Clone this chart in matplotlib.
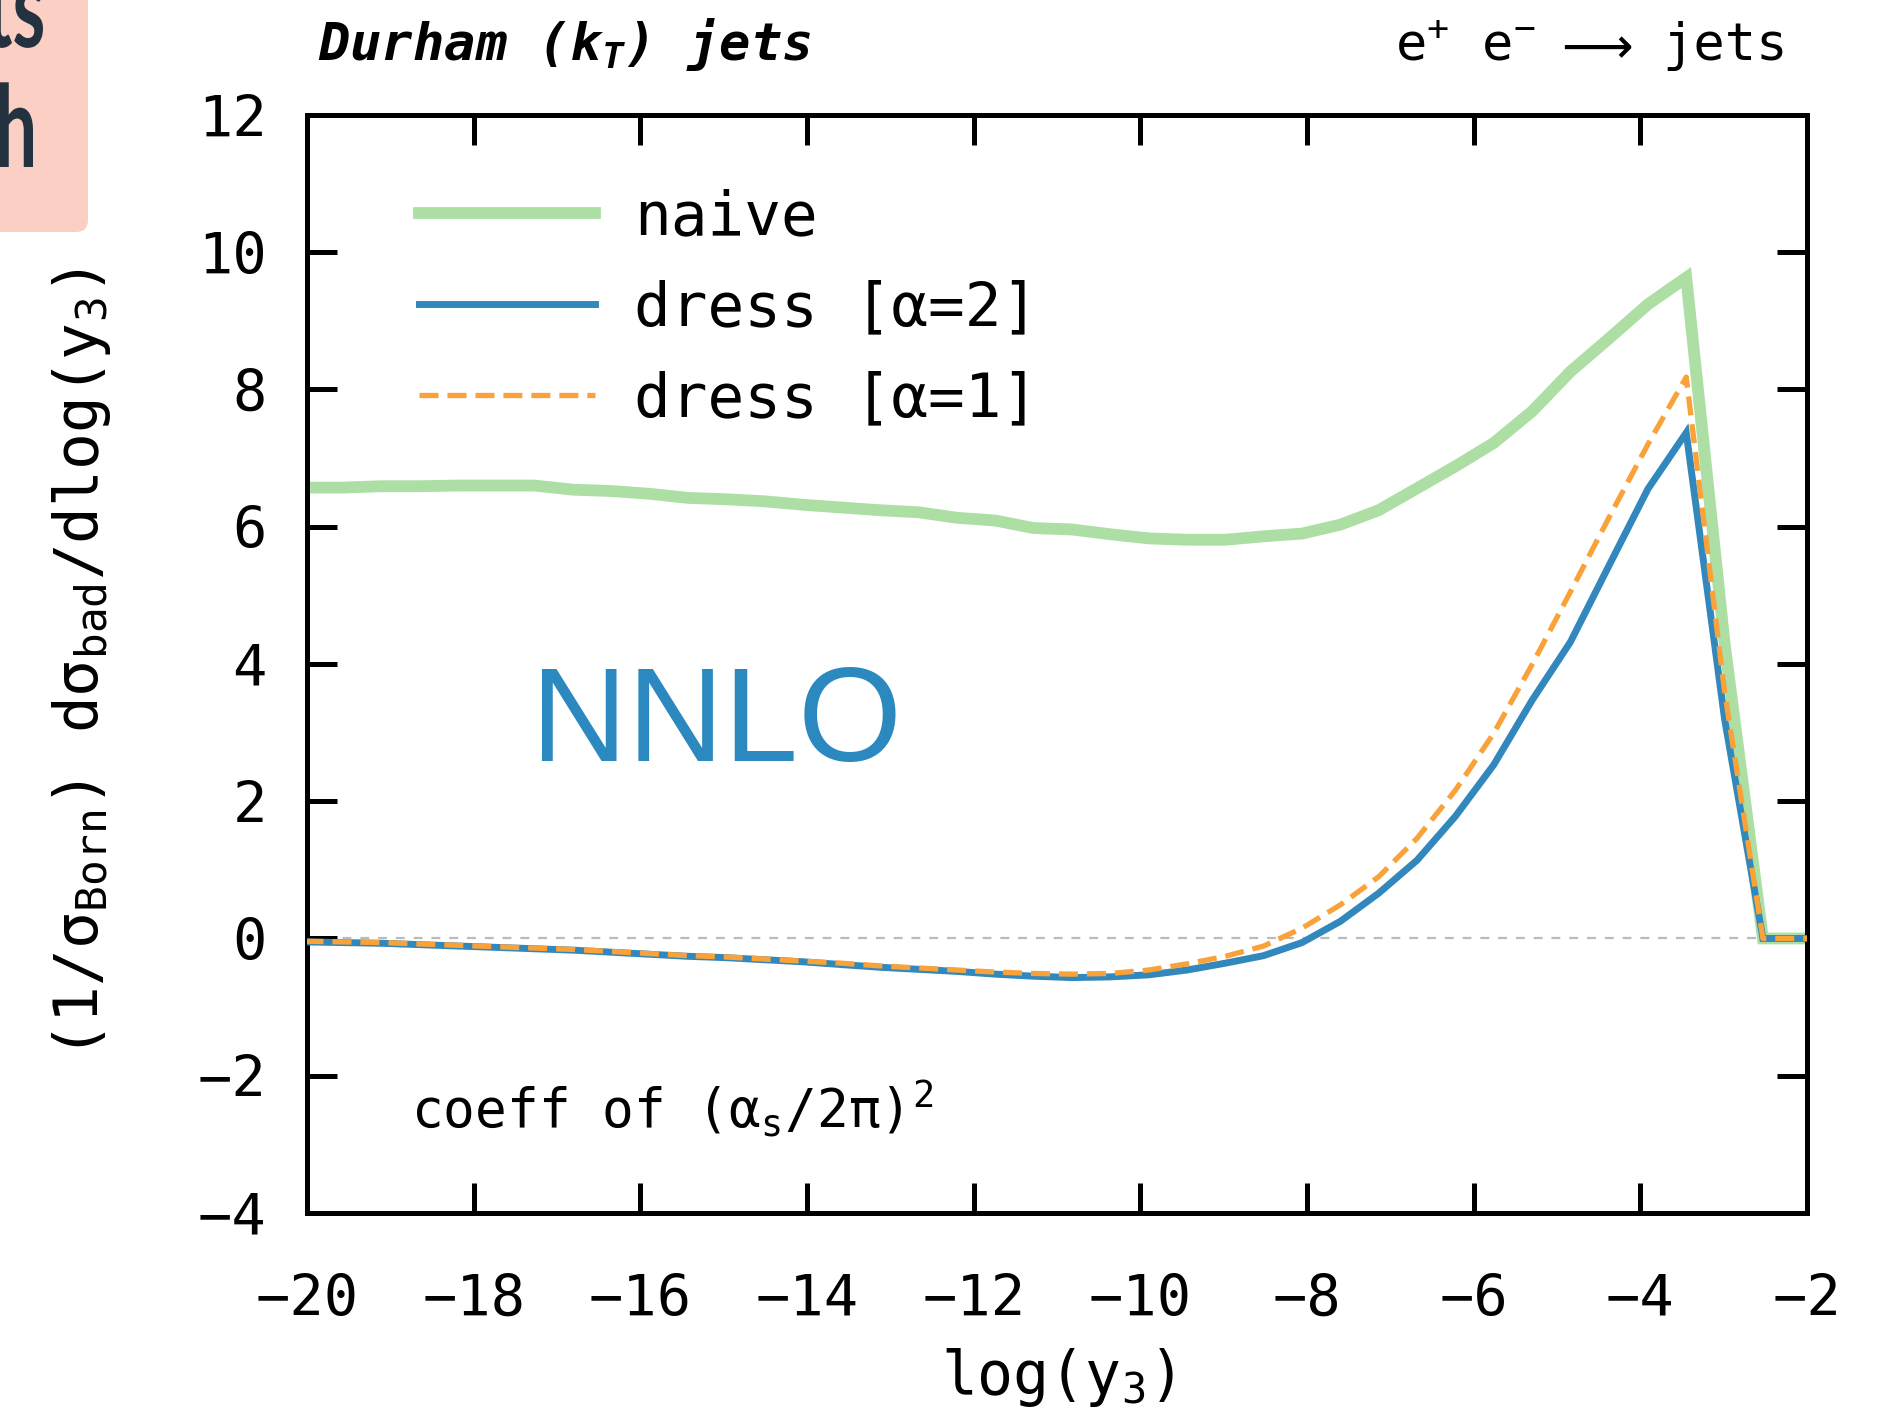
import matplotlib.pyplot as plt
from matplotlib.patches import FancyBboxPatch, PathPatch
from matplotlib.textpath import TextPath
from matplotlib.font_manager import FontProperties
from matplotlib.transforms import Affine2D

plt.rcParams['font.family'] = ['DejaVu Sans Mono', 'DejaVu Sans']
plt.rcParams['mathtext.fontset'] = 'custom'
plt.rcParams['mathtext.rm'] = 'DejaVu Sans Mono'
plt.rcParams['mathtext.it'] = 'DejaVu Sans Mono:italic:bold'
plt.rcParams['mathtext.bf'] = 'DejaVu Sans Mono:bold'

# bin centres in log(y3)
logy3 = [-20.03, -19.57, -19.11, -18.65, -18.19, -17.73, -17.27, -16.81, -16.35, -15.89,
         -15.43, -14.97, -14.51, -14.05, -13.59, -13.12, -12.66, -12.20, -11.74, -11.28,
         -10.82, -10.36, -9.90, -9.44, -8.98, -8.52, -8.06, -7.60, -7.14, -6.68,
         -6.22, -5.76, -5.30, -4.84, -4.37, -3.91, -3.45, -2.99, -2.53, -2.07, -1.61]
naive = [6.57, 6.57, 6.59, 6.59, 6.60, 6.60, 6.60, 6.54, 6.52, 6.48,
         6.42, 6.40, 6.37, 6.32, 6.28, 6.24, 6.21, 6.13, 6.09, 5.98,
         5.96, 5.89, 5.83, 5.81, 5.81, 5.86, 5.90, 6.03, 6.24, 6.56,
         6.88, 7.22, 7.68, 8.26, 8.75, 9.24, 9.63, 4.3, 0.0, 0.0, 0.0]
dress_a2 = [-0.05, -0.06, -0.07, -0.09, -0.11, -0.13, -0.15, -0.17, -0.20, -0.23,
            -0.26, -0.28, -0.31, -0.34, -0.38, -0.42, -0.45, -0.48, -0.52, -0.55,
            -0.57, -0.56, -0.53, -0.46, -0.36, -0.25, -0.06, 0.25, 0.66, 1.14,
            1.78, 2.53, 3.47, 4.32, 5.45, 6.55, 7.37, 3.2, 0.0, 0.0, 0.0]
dress_a1 = [-0.04, -0.05, -0.06, -0.08, -0.10, -0.12, -0.14, -0.16, -0.19, -0.22,
            -0.25, -0.27, -0.30, -0.33, -0.36, -0.40, -0.43, -0.46, -0.49, -0.51,
            -0.52, -0.51, -0.46, -0.37, -0.26, -0.11, 0.15, 0.49, 0.90, 1.46,
            2.16, 2.99, 3.99, 5.05, 6.15, 7.20, 8.18, 3.6, 0.0, 0.0, 0.0]

xticks = list(range(-20, -1, 2))
yticks = list(range(-4, 13, 2))

fig = plt.figure(figsize=(18.95, 14.21), dpi=100)
ax = fig.add_axes([0.162, 0.1464, 0.7916, 0.7727])

ax.axhline(0, color='#bbbbbb', lw=1.6, dashes=(4, 4), zorder=1)
ax.plot(logy3, naive, color='#addfa5', lw=8.5, solid_joinstyle='miter', label='naive', zorder=2)
ax.plot(logy3, dress_a2, color='#3288bd', lw=5, solid_joinstyle='miter', label='dress [α=2]', zorder=3)
ax.plot(logy3, dress_a1, color='#f9a23a', lw=3.8, dashes=(3.6, 1.7), label='dress [α=1]', zorder=4)

ax.set_xlim(-20, -2)
ax.set_ylim(-4, 12)
ax.set_xticks(xticks)
ax.set_yticks(yticks)
ax.tick_params(direction='in', top=True, right=True, length=21.6, width=3.6, labelsize=41)
ax.tick_params(axis='x', pad=43)
ax.tick_params(axis='y', pad=29)
for s in ax.spines.values():
    s.set_linewidth(3.6)

ax.set_xlabel('log(y$_3$)', fontsize=43, va='center')
ax.xaxis.set_label_coords(0.5, -0.150)
ax.set_ylabel('(1/σ$_{\\rm Born}$) dσ$_{\\rm bad}$/dlog(y$_3$)', fontsize=44, va='center')
ax.yaxis.set_label_coords(-0.150, 0.5)

ax.legend(loc='upper left', bbox_to_anchor=(0.0746, 0.933), frameon=False, fontsize=44,
          handlelength=2.88, handletextpad=0.64, labelspacing=0.52, borderpad=0, borderaxespad=0)

ax.text(0.0073, 1.050, 'Durham (k$_T$) jets', transform=ax.transAxes, fontsize=37.5,
        fontweight='bold', fontstyle='italic', va='baseline', ha='left')
ax.text(0.819, 1.050, 'e$^{+}$ e$^{-}$', transform=ax.transAxes, fontsize=37.5,
        va='baseline', ha='right')
ax.text(0.884, 1.047, '⟶', transform=ax.transAxes, fontsize=36, family='DejaVu Sans',
        va='baseline', ha='right')
ax.text(0.987, 1.050, 'jets', transform=ax.transAxes, fontsize=37.5,
        va='baseline', ha='right')
ax.text(-17.31, 2.58, 'NNLO', color='#2c89c0', fontsize=96, family='Liberation Sans',
        va='baseline', ha='left')
ax.text(-18.75, -2.74, 'coeff of (α$_{\\rm s}$/2π)$^{2}$', fontsize=38, va='baseline', ha='left')

# slide fragment in the corner (inches from bottom-left)
box = FancyBboxPatch((-0.3, 11.89), 1.18, 3.0, boxstyle='round,pad=0,rounding_size=0.12',
                     transform=fig.dpi_scale_trans, facecolor='#fbcfc3', edgecolor='none')
fig.add_artist(box)

corner_font = FontProperties(family='Lato', weight='bold')


def corner_text(s, right, base):
    tp = TextPath((0, 0), s, size=1, prop=corner_font)
    ext = tp.get_extents()
    tr = Affine2D().translate(-ext.x1, 0).scale(0.75, 1.14).translate(right, base) + fig.dpi_scale_trans
    fig.add_artist(PathPatch(tp, transform=tr, facecolor='#243240', edgecolor='none'))


corner_text('ts', 0.43, 13.74)
corner_text('h', 0.33, 12.54)

fig.savefig('out.png', dpi=100)
